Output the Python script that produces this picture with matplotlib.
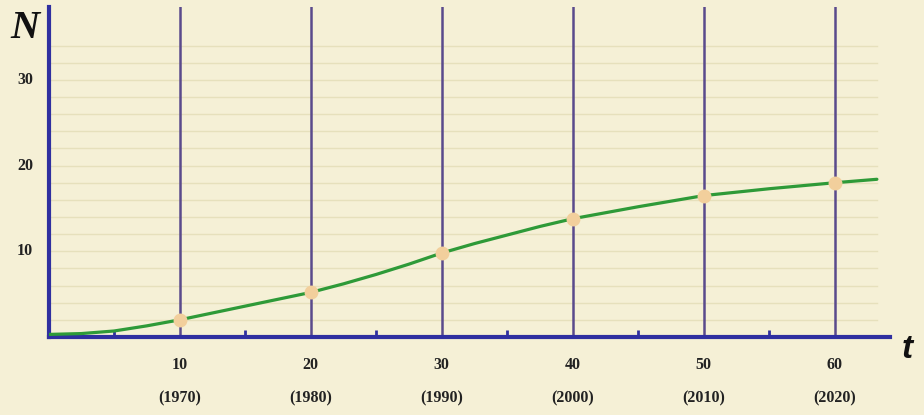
import matplotlib
matplotlib.use("Agg")
import matplotlib.pyplot as plt
from matplotlib.transforms import blended_transform_factory

# values
curve_t = [0, 2.5, 5, 7.5, 10, 12.5, 15, 17.5, 20, 22.5, 25, 27.5, 30, 32.5, 35,
           37.5, 40, 45, 50, 55, 60, 63.2]
curve_n = [0.3, 0.4, 0.7, 1.3, 2.0, 2.8, 3.6, 4.4, 5.2, 6.2, 7.3, 8.5, 9.8, 10.9, 11.9,
           12.9, 13.8, 15.2, 16.5, 17.3, 18.0, 18.4]
mark_t = [10, 20, 30, 40, 50, 60]
mark_n = [2.0, 5.2, 9.8, 13.8, 16.5, 18.0]
year_labels = ["(1970)", "(1980)", "(1990)", "(2000)", "(2010)", "(2020)"]
y_ticks = [10, 20, 30]
minor_t = [5, 15, 25, 35, 45, 55]

bg = "#f5f0d6"
axis_blue = "#2f2fa0"

fig = plt.figure(figsize=(9.24, 4.15), dpi=100, facecolor=bg)
ax = fig.add_axes([48.5 / 924, 78 / 415, (890 - 48.5) / 924, 330 / 415])
ax.set_facecolor(bg)
ax.set_xlim(0, 64.2)
ax.set_ylim(0, 38.5)

# horizontal grid every 2 units
for g in range(2, 36, 2):
    ax.axhline(g, color="#e6e0bc", lw=1.0, zorder=1, xmax=0.985)

# vertical lines at the decades
for t in mark_t:
    ax.axvline(t, color="#5a4a8c", lw=1.8, zorder=2)

ax.plot(curve_t, curve_n, color="#2e9a38", lw=2.3, zorder=3, solid_capstyle="round")
ax.plot(mark_t, mark_n, "o", color="#f2cf9c", markersize=10, markeredgewidth=0, zorder=4)

for side in ["top", "right"]:
    ax.spines[side].set_visible(False)
for side in ["left", "bottom"]:
    ax.spines[side].set_color(axis_blue)
    ax.spines[side].set_linewidth(3)

ax.set_xticks(minor_t)
ax.set_xticklabels([])
ax.tick_params(axis="x", direction="in", length=5, width=2, color=axis_blue)
ax.set_yticks([])

serif = ["Liberation Serif", "DejaVu Serif"]
tr = blended_transform_factory(ax.transData, fig.transFigure)
for t, yl in zip(mark_t, year_labels):
    ax.text(t, 1 - 365 / 415, str(t), transform=tr, ha="center", va="center",
            fontsize=11.5, fontweight="bold", family=serif, color="#222222")
    ax.text(t, 1 - 398 / 415, yl, transform=tr, ha="center", va="center",
            fontsize=11.5, fontweight="bold", family=serif, color="#222222")

tr2 = blended_transform_factory(fig.transFigure, ax.transData)
for v in y_ticks:
    ax.text(25 / 924, v, str(v), transform=tr2, ha="center", va="center",
            fontsize=11.5, fontweight="bold", family=serif, color="#222222")

fig.text(25 / 924, 1 - 28 / 415, "N", ha="center", va="center", fontsize=29,
         fontweight="bold", fontstyle="italic", family=serif, color="#111111")
fig.text(907 / 924, 1 - 349 / 415, "t", ha="center", va="center", fontsize=24,
         fontweight="bold", fontstyle="italic", family=["Liberation Sans", "DejaVu Sans"],
         color="#111111")

fig.savefig("out.png", dpi=100, facecolor=bg)
